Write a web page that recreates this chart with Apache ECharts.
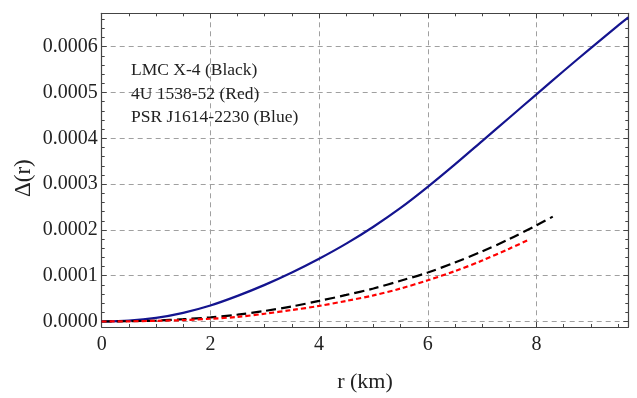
<!DOCTYPE html>
<html>
<head>
<meta charset="utf-8">
<script src="https://cdn.jsdelivr.net/npm/echarts@6/dist/echarts.min.js"></script>
<style>html,body{margin:0;padding:0;background:#fff;}#c{width:637px;height:398px;}</style>
</head>
<body>
<div id="c"></div>
<script>
// r (km) sample positions and Δ(r) values
const rBlue = [0, 0.5, 1, 1.5, 2, 2.5, 3, 3.5, 4, 4.5, 5, 5.5, 6, 6.5, 7, 7.5, 8, 8.5, 9, 9.5, 9.69];
const deltaBlue = [0, 0.000002, 0.000008, 0.000019, 0.000035, 0.000056, 0.00008, 0.000107, 0.000137, 0.00017, 0.000207, 0.000248, 0.000294, 0.000343, 0.000394, 0.000445, 0.000496, 0.000547, 0.000597, 0.000646, 0.000664];

const rBlack = [0, 0.5, 1, 1.5, 2, 2.5, 3, 3.5, 4, 4.5, 5, 5.5, 6, 6.5, 7, 7.5, 8, 8.3];
const deltaBlack = [0, 0.0000006, 0.000002, 0.000005, 0.000009, 0.000015, 0.000023, 0.000033, 0.000045, 0.000058, 0.000072, 0.000089, 0.000107, 0.000129, 0.000153, 0.00018, 0.00021, 0.000229];

const rRed = [0, 0.5, 1, 1.5, 2, 2.5, 3, 3.5, 4, 4.5, 5, 5.5, 6, 6.5, 7, 7.5, 7.85];
const deltaRed = [0, 0.0000004, 0.0000015, 0.000003, 0.000006, 0.00001, 0.000017, 0.000025, 0.000034, 0.000045, 0.000057, 0.000072, 0.00009, 0.00011, 0.000133, 0.000159, 0.000178];

const legendLines = ['LMC X-4 (Black)', '4U 1538-52 (Red)', 'PSR J1614-2230 (Blue)'];
const xTitle = 'r (km)';
const yTitle = 'Δ(r)';

const xMin = 0, xMax = 9.69;
const yMin = -0.000012, yMax = 0.000673;

function pairs(xs, ys) { return xs.map((x, i) => [x, ys[i]]); }

const FONT = 'Liberation Serif';
const frameColor = '#444';
const gridStyle = { color: '#a0a0a0', type: [5, 4], width: 1 };

function xAxisDef(pos, primary) {
  return {
    type: 'value', position: pos, min: xMin, max: xMax, splitNumber: 5,
    minInterval: 2, maxInterval: 2,
    axisLine: { show: true, onZero: false, lineStyle: { color: frameColor, width: 1.2 } },
    axisTick: { show: true, inside: true, length: 5, lineStyle: { color: frameColor } },
    minorTick: { show: true, splitNumber: 4, length: 3, lineStyle: { color: frameColor } },
    splitLine: { show: primary, lineStyle: gridStyle },
    axisLabel: primary ? { show: true, fontFamily: FONT, fontSize: 20, color: '#222', margin: 8, showMaxLabel: false, formatter: v => String(v) } : { show: false },
    name: primary ? xTitle : '', nameLocation: 'middle', nameGap: 44, nameMoveOverlap: false,
    nameTextStyle: { fontFamily: FONT, fontSize: 22, color: '#222' }
  };
}
function yAxisDef(pos, primary) {
  return {
    type: 'value', position: pos, min: yMin, max: yMax, splitNumber: 7,
    minInterval: 0.0001, maxInterval: 0.0001,
    axisLine: { show: true, onZero: false, lineStyle: { color: frameColor, width: 1.2 } },
    axisTick: { show: true, inside: true, length: 5, lineStyle: { color: frameColor } },
    minorTick: { show: true, splitNumber: 5, length: 3, lineStyle: { color: frameColor } },
    splitLine: { show: primary, lineStyle: gridStyle },
    axisLabel: primary ? { show: true, fontFamily: FONT, fontSize: 20, color: '#222', margin: 4, showMinLabel: false, showMaxLabel: false, formatter: v => v.toFixed(4) } : { show: false },
    name: primary ? yTitle : '', nameLocation: 'middle', nameGap: 66, nameRotate: 90, nameMoveOverlap: false,
    nameTextStyle: { fontFamily: FONT, fontSize: 23, color: '#222', padding: [0, 16, 0, 0] }
  };
}

const chart = echarts.init(document.getElementById('c'), null, { renderer: 'canvas' });
chart.setOption({
  animation: false,
  backgroundColor: '#fff',
  grid: { left: 101.7, right: 8.7, top: 13.3, bottom: 61.3, containLabel: false },
  title: {
    text: legendLines.join('\n'), left: 131, top: 59, padding: 0,
    textStyle: { fontFamily: FONT, fontSize: 17.5, fontWeight: 'normal', color: '#222', lineHeight: 23.3 }
  },
  xAxis: [xAxisDef('bottom', true), xAxisDef('top', false)],
  yAxis: [yAxisDef('left', true), yAxisDef('right', false)],
  series: [
    { name: 'PSR J1614-2230', type: 'line', data: pairs(rBlue, deltaBlue), smooth: 0.3, showSymbol: false, clip: true,
      lineStyle: { color: '#14148f', width: 2.2 } },
    { name: 'LMC X-4', type: 'line', data: pairs(rBlack, deltaBlack), smooth: 0.3, showSymbol: false,
      lineStyle: { color: '#000', width: 2.2, type: [10, 5] } },
    { name: '4U 1538-52', type: 'line', data: pairs(rRed, deltaRed), smooth: 0.3, showSymbol: false,
      lineStyle: { color: '#f00', width: 2.2, type: [5, 3] } }
  ]
});
</script>
</body>
</html>
